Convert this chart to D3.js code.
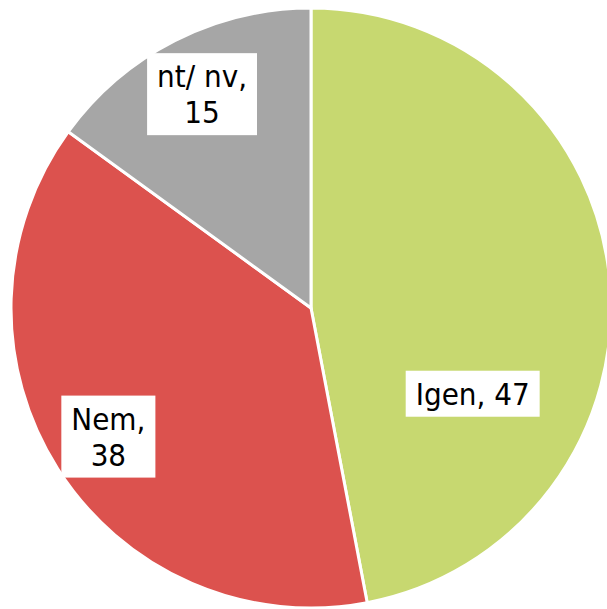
<!DOCTYPE html>
<html>
<head>
<meta charset="utf-8">
<script src="https://cdn.jsdelivr.net/npm/d3@7"></script>
<style>
  html, body { margin: 0; padding: 0; background: #ffffff; overflow: hidden; }
  svg { display: block; }
</style>
</head>
<body>
<svg id="chart" width="607" height="609"></svg>
<script>
const categories = ["Igen", "Nem", "nt/nv"];
const values = [47, 38, 15];
const colors = ["#c7d870", "#dc524e", "#a6a6a6"];

const width = 607, height = 609;
const cx = 311, cy = 308, radius = 300;
const fontSize = 31, lineHeight = 36, padX = 10, padY = 5;

const svg = d3.select("#chart");
const g = svg.append("g").attr("transform", `translate(${cx},${cy})`);

const pie = d3.pie().sort(null).value(d => d.value);
const data = pie(categories.map((c, i) => ({ name: c, value: values[i], color: colors[i] })));

const arc = d3.arc().innerRadius(0).outerRadius(radius);

g.selectAll("path.slice")
  .data(data)
  .enter()
  .append("path")
  .attr("class", "slice")
  .attr("d", arc)
  .attr("fill", d => d.data.color)
  .attr("stroke", "#ffffff")
  .attr("stroke-width", 3)
  .attr("stroke-linejoin", "miter");

// label placement (best-fit style): largest slice label shifted within its slice
function labelPos(d, i) {
  let frac = 0.5, rFrac = 0.8;
  if (i === 0) { frac = 0.697; rFrac = 0.61; }
  const a = d.startAngle + (d.endAngle - d.startAngle) * frac;
  const r = radius * rFrac;
  return [Math.sin(a) * r, -Math.cos(a) * r];
}

function labelLines(d, i) {
  return i === 0 ? [d.data.name + ", " + d.data.value] : [d.data.name.replace("/", "/ ") + ",", String(d.data.value)];
}

const labels = g.selectAll("g.label")
  .data(data)
  .enter()
  .append("g")
  .attr("class", "label")
  .attr("transform", (d, i) => { const p = labelPos(d, i); return `translate(${p[0]},${p[1]})`; });

labels.each(function(d, i) {
  const sel = d3.select(this);
  const lines = labelLines(d, i);
  const rect = sel.append("rect").attr("fill", "#ffffff");
  const text = sel.append("text")
    .attr("text-anchor", "middle")
    .attr("font-family", "'DejaVu Sans Condensed', 'DejaVu Sans', sans-serif")
    .attr("font-size", fontSize)
    .attr("fill", "#000000");
  const totalH = lineHeight * lines.length;
  lines.forEach((ln, k) => {
    text.append("tspan")
      .attr("x", 0)
      .attr("y", -totalH / 2 + lineHeight * k + lineHeight / 2)
      .attr("dy", "0.36em")
      .text(ln);
  });
  const bb = text.node().getBBox();
  const w = bb.width + padX * 2;
  const h = totalH + padY * 2;
  rect.attr("x", -w / 2).attr("y", -h / 2).attr("width", w).attr("height", h);
});
</script>
</body>
</html>
